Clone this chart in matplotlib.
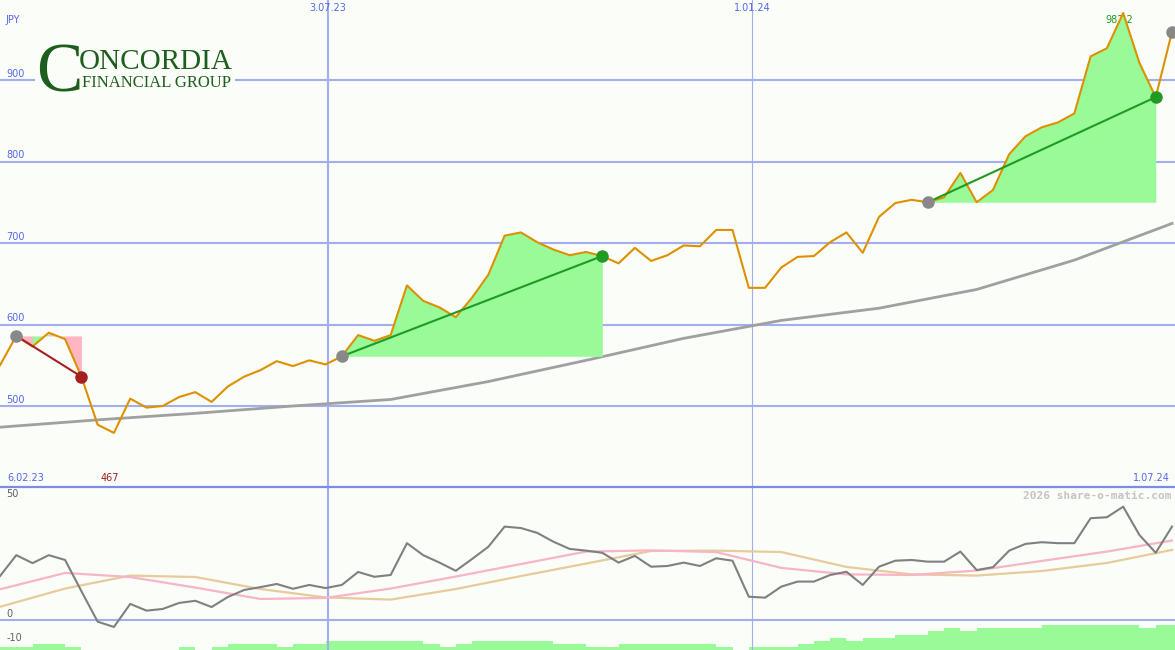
import numpy as np
import matplotlib
matplotlib.use("Agg")
import matplotlib.pyplot as plt
from matplotlib.patches import Rectangle
from matplotlib.transforms import blended_transform_factory

# weekly closes, JPY (6.02.23 .. 1.07.24)
price = [550, 586, 573, 590, 582, 536, 477, 467, 509, 498,
         500, 511, 517, 505, 524, 536, 544, 555, 549, 556,
         551, 561, 587, 580, 587, 648, 629, 621, 609, 633,
         661, 709, 713, 701, 692, 685, 689, 684, 675, 694,
         678, 685, 697, 696, 716, 716, 645, 645, 670, 683,
         684, 701, 713, 688, 732, 749, 753, 750, 756, 786,
         750, 765, 809, 831, 842, 848, 859, 929, 939, 982.2,
         921, 879, 959]

# long moving average, read every 6th week
ma_idx = [0, 6, 12, 18, 24, 30, 36, 42, 48, 54, 60, 66, 72]
ma_val = [474, 483, 491, 500, 508, 530, 556, 583, 605, 620, 643, 679, 724]

# trend segments (start week, end week)
trends = [(1, 5), (21, 37), (57, 71)]
open_trend = 72

# lower panel: oscillator and its two averages
osc = [18.3, 27, 23.7, 27, 25, 12, -0.7, -2.9, 6.7, 3.9,
       4.6, 7.1, 8, 5.4, 9.6, 12.5, 13.7, 15, 13, 14.6,
       13.3, 14.6, 20, 18, 18.75, 32, 27, 23.9, 20.5, 25.4,
       30.5, 38.9, 38.3, 36.3, 32.6, 29.6, 28.9, 28, 23.9, 26.7,
       22.2, 22.5, 23.9, 22.5, 25.7, 24.7, 9.7, 9.3, 13.9, 16,
       16, 18.75, 20.1, 14.6, 22.2, 24.7, 25, 24.3, 24.3, 28.5,
       20.8, 22, 28.9, 31.7, 32.4, 32, 32, 42.4, 42.8, 47.2,
       35.4, 28, 38.9]
avg_idx = [0, 4, 8, 12, 16, 20, 24, 28, 32, 36, 40, 44, 48, 52, 56, 60, 64, 68, 72]
fast_avg = [12.8, 19.6, 17.9, 13.5, 8.75, 9.2, 13.1, 18.1, 23.3, 28.5,
            29, 28.3, 21.7, 19, 18.75, 20.6, 24.6, 28.5, 33.1]
slow_avg = [5.5, 13.1, 18.5, 17.9, 12.9, 9.4, 8.5, 12.9, 18.3, 23.5,
            28.75, 28.9, 28.3, 22.1, 19, 18.5, 20.4, 23.75, 29.2]

# strength bars, one per week
strength = [1, 1, 2, 2, 1, 0, 0, 0, 0, 0,
            0, 1, 0, 1, 2, 2, 2, 1, 2, 2,
            3, 3, 3, 3, 3, 3, 2, 1, 2, 3,
            3, 3, 3, 3, 2, 2, 1, 1, 2, 2,
            2, 2, 2, 2, 1, 0, 1, 1, 1, 2,
            3, 4, 3, 4, 4, 5, 5, 6, 7, 6,
            7, 7, 7, 7, 8, 8, 8, 8, 8, 8,
            7, 8, 8]

price_ticks = [900, 800, 700, 600, 500]
date_pos = [20.15, 46.2]
date_labels = ["3.07.23", "1.01.24"]
first_date, last_date = "6.02.23", "1.07.24"

bg = "#fbfdf9"
grid_c = "#a3aef0"
label_c = "#5565ee"
line_c = "#dd9000"
green_fill = "#98fb98"
pink_fill = "#ffb6c1"

W, H = 1175, 650
fig = plt.figure(figsize=(W / 100, H / 100), dpi=100, facecolor=bg)

def px(x, y):
    return x / W, 1 - y / H

weeks = np.arange(len(price))
xmax = 1175 / (1172 / 72)

# ---- main price panel
ax = fig.add_axes([0, 163 / H, 1, 487 / H], facecolor=bg)
ax.set_xlim(0, xmax)
ax.set_ylim(400.6, 998.2)
ax.axis("off")

for t in price_ticks:
    ax.axhline(t, color=grid_c, lw=1.5, zorder=1)
    ax.text(0.4, t + 1.5, str(t), color=label_c, fontsize=7, va="bottom", ha="left")
ax.axvline(date_pos[0], color=grid_c, lw=1.5, zorder=1)
ax.axvline(date_pos[1], color=grid_c, lw=0.8, zorder=1)

top = blended_transform_factory(ax.transData, ax.transAxes)
for p, lab in zip(date_pos, date_labels):
    ax.text(p, 0.973, lab, transform=top, color=label_c, fontsize=7, ha="center", va="bottom")
ax.text(0.005, 0.948, "JPY", transform=ax.transAxes, color=label_c, fontsize=7, va="bottom")
ax.text(0.006, 0.008, first_date, transform=ax.transAxes, color=label_c, fontsize=7, va="bottom")
ax.text(0.996, 0.008, last_date, transform=ax.transAxes, color=label_c, fontsize=7, va="bottom", ha="right")

# low / high annotations
lo = int(np.argmin(price))
hi = int(np.argmax(price))
ax.text(lo - 0.25, 0.008, f"{price[lo]:g}", transform=top, color="#a02020", fontsize=7, ha="center", va="bottom")
ax.text(hi - 0.25, 0.948, f"{price[hi]:g}", transform=top, color="#229922", fontsize=7, ha="center", va="bottom")

ax.plot(ma_idx, ma_val, color="#a0a0a0", lw=2, zorder=2)

# trend fills, lines and dots
for s, e in trends:
    base = price[s]
    up = price[e] > base
    if up:
        ax.fill_between(weeks[s:e + 1], base, price[s:e + 1], color=green_fill, lw=0, zorder=3)
    else:
        for j in range(s, e):
            c = green_fill if price[j + 1] > price[j] else pink_fill
            ax.fill_between(weeks[j:j + 2], base, price[j:j + 2], color=c, lw=0, zorder=3)
    tc = "#229922" if up else "#a52020"
    ax.plot([s, e], [price[s], price[e]], color=tc, lw=1.5, zorder=5)
    ax.plot(s, price[s], "o", color="#888888", ms=8, zorder=6)
    ax.plot(e, price[e], "o", color=tc, ms=8, zorder=6)

ax.plot(weeks, price, color=line_c, lw=1.5, zorder=4)
ax.plot(open_trend, price[open_trend], "o", color="#888888", ms=8, zorder=6)

# logo, with its own background over the grid
fig.patches.append(Rectangle(px(35, 95), 200 / W, 55 / H, transform=fig.transFigure,
                             facecolor=bg, edgecolor="none", zorder=5))
logo_c = "#1d5e1d"
fig.text(*px(36, 91), "C", family="Liberation Serif", fontsize=50, color=logo_c, zorder=6)
fig.text(*px(79, 69), "ONCORDIA", family="Liberation Serif", fontsize=21, color=logo_c, zorder=6)
fig.text(*px(82, 87), "FINANCIAL GROUP", family="Liberation Serif", fontsize=12, color=logo_c, zorder=6)

# ---- lower indicator panel
ax2 = fig.add_axes([0, 0, 1, 163 / H], facecolor=bg)
ax2.set_xlim(0, xmax)
ax2.set_ylim(-12.5, 55.4)
ax2.set_xticks([])
ax2.set_yticks([])
for side in ["left", "right", "bottom"]:
    ax2.spines[side].set_visible(False)
ax2.spines["top"].set_color("#7b8be8")
ax2.spines["top"].set_linewidth(1.6)

ax3 = ax2.twinx()
ax3.set_ylim(0, 52.6)
ax3.axis("off")
ax3.bar(weeks, strength, width=1, align="edge", color=green_fill, lw=0, zorder=1)

ax2.set_zorder(ax3.get_zorder() + 1)
ax2.patch.set_visible(False)
ax3.patch.set_visible(True)

ax2.axhline(0, color=grid_c, lw=1.5, zorder=1)
ax2.axvline(date_pos[0], color=grid_c, lw=1.5, zorder=1)
ax2.axvline(date_pos[1], color=grid_c, lw=0.8, zorder=1)
for v in [50, 0, -10]:
    ax2.text(0.4, v + 0.6, str(v), color="#606060", fontsize=7, va="bottom")
ax2.text(0.997, 0.915, "2026 share-o-matic.com", transform=ax2.transAxes, color="#c4c4c4",
         fontsize=8, family="DejaVu Sans Mono", weight="bold", ha="right", va="bottom")

ax2.plot(avg_idx, slow_avg, color="#e6cc9a", lw=1.6, zorder=2)
ax2.plot(avg_idx, fast_avg, color="#f8b4c8", lw=1.6, zorder=2)
ax2.plot(weeks, osc, color="#808080", lw=1.5, zorder=3)

fig.savefig("out.png", dpi=100, facecolor=bg)
